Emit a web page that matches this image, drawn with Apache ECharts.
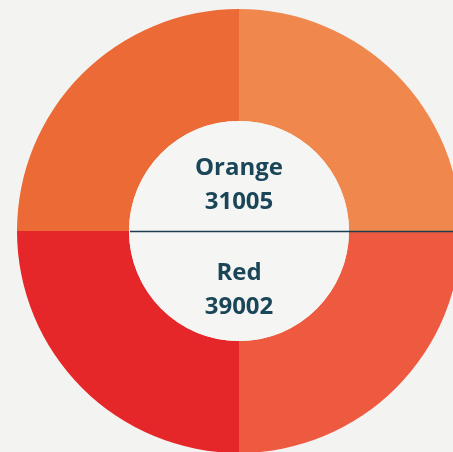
<!DOCTYPE html>
<html>
<head>
<meta charset="utf-8">
<script src="https://cdn.jsdelivr.net/npm/echarts@6/dist/echarts.min.js"></script>
<style>
html,body{margin:0;padding:0;background:#f3f3f1;}
#c{width:453px;height:452px;}
</style>
</head>
<body>
<div id="c"></div>
<script>
// Quadrants, clockwise from top
const segments = ['Orange (right)', 'Red (right)', 'Red (left)', 'Orange (left)'];
const segmentValues = [25, 25, 25, 25];
const segmentColors = ['#f0884e', '#ee5a40', '#e6272a', '#ec6a35'];
const groupNames = ['Orange', 'Red'];
const groupTotals = [31005, 39002];

const chart = echarts.init(document.getElementById('c'), null, {renderer: 'canvas'});
const textColor = '#1b4658';
const font = '"Open Sans", sans-serif';
const fs = '700 24px ' + font;

chart.setOption({
  backgroundColor: '#f3f3f1',
  animation: false,
  series: [{
    type: 'pie',
    center: [239, 231],
    radius: [110, 222],
    startAngle: 90,
    clockwise: true,
    silent: true,
    z: 1,
    label: {show: false},
    labelLine: {show: false},
    itemStyle: {borderWidth: 0},
    data: segments.map((n, i) => ({name: n, value: segmentValues[i], itemStyle: {color: segmentColors[i]}}))
  }],
  graphic: [
    {type: 'circle', z: 50, shape: {cx: 239, cy: 231, r: 110}, style: {fill: '#f5f5f4'}},
    {type: 'line', z: 100, shape: {x1: 130, y1: 231.5, x2: 453, y2: 231.5}, style: {stroke: '#1d3c4c', lineWidth: 1.5}},
    {type: 'text', z: 100, x: 239, y: 168, style: {text: groupNames[0], fill: textColor, font: fs, align: 'center', verticalAlign: 'middle'}},
    {type: 'text', z: 100, x: 239, y: 202, style: {text: String(groupTotals[0]), fill: textColor, font: fs, align: 'center', verticalAlign: 'middle'}},
    {type: 'text', z: 100, x: 239, y: 273, style: {text: groupNames[1], fill: textColor, font: fs, align: 'center', verticalAlign: 'middle'}},
    {type: 'text', z: 100, x: 239, y: 307, style: {text: String(groupTotals[1]), fill: textColor, font: fs, align: 'center', verticalAlign: 'middle'}}
  ]
});
</script>
</body>
</html>
